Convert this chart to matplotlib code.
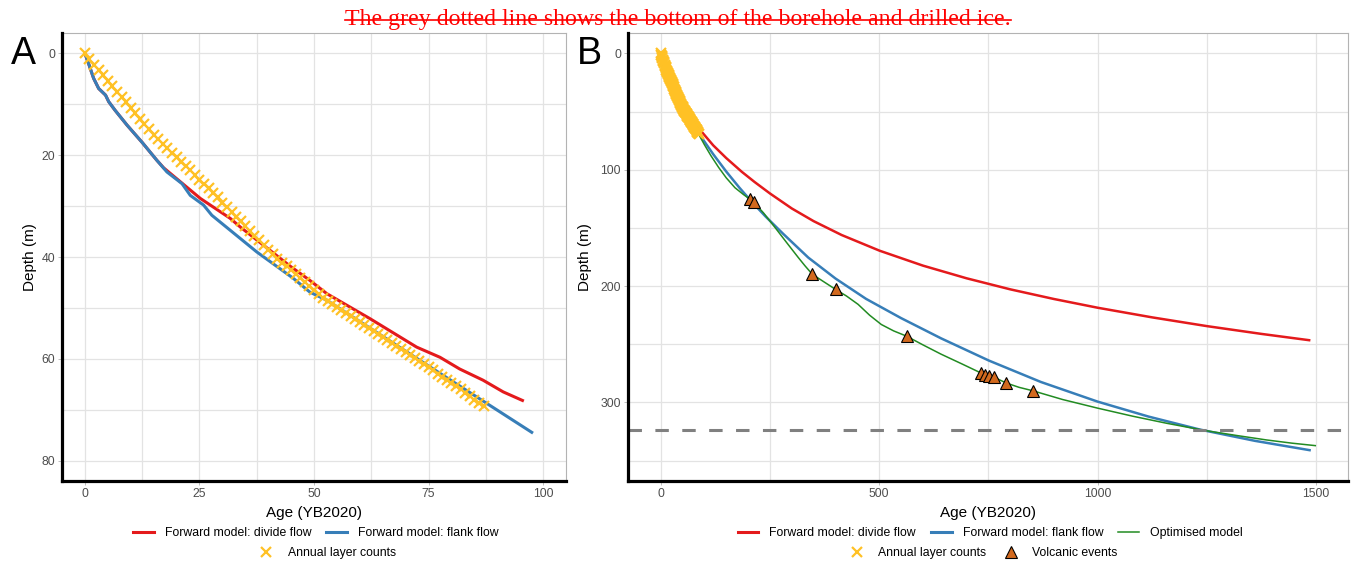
import matplotlib
matplotlib.use("Agg")
import matplotlib.pyplot as plt
from matplotlib.lines import Line2D
import numpy as np

plt.rcParams['font.family'] = ['Liberation Sans', 'DejaVu Sans']

TITLE = "The grey dotted line shows the bottom of the borehole and drilled ice."
X_LABEL = "Age (YB2020)"
Y_LABEL = "Depth (m)"
LEG_DIVIDE = "Forward model: divide flow"
LEG_FLANK = "Forward model: flank flow"
LEG_OPTIM = "Optimised model"
LEG_LAYERS = "Annual layer counts"
LEG_VOLC = "Volcanic events"

# Annual layer counts (age in years before 2020, depth in m)
layer_age = [0, 1, 2, 3, 4, 5, 6, 7, 8, 9, 10, 11, 12, 13, 14, 15, 16, 17, 18, 19,
             20, 21, 22, 23, 24, 25, 26, 27, 28, 29, 30, 31, 32, 33, 34, 35, 36, 37, 38, 39,
             40, 41, 42, 43, 44, 45, 46, 47, 48, 49, 50, 51, 52, 53, 54, 55, 56, 57, 58, 59,
             60, 61, 62, 63, 64, 65, 66, 67, 68, 69, 70, 71, 72, 73, 74, 75, 76, 77, 78, 79,
             80, 81, 82, 83, 84, 85, 86, 87]
layer_depth = [0.0, 1.1, 2.2, 3.2, 4.3, 5.4, 6.5, 7.5, 8.6, 9.6, 10.7, 11.8, 12.8, 13.9, 14.9, 16.0,
               16.9, 17.8, 18.6, 19.5, 20.4, 21.3, 22.1, 23.0, 23.9, 24.8, 25.6, 26.5, 27.4, 28.3,
               29.3, 30.2, 31.2, 32.1, 33.0, 33.9, 34.9, 35.8, 36.7, 37.7, 38.6, 39.5, 40.3, 41.1,
               41.8, 42.6, 43.4, 44.1, 44.9, 45.7, 46.4, 47.2, 48.0, 48.7, 49.3, 49.9, 50.5, 51.0,
               51.6, 52.2, 52.8, 53.4, 54.0, 54.6, 55.1, 55.7, 56.3, 56.9, 57.5, 58.1, 58.6, 59.2,
               59.8, 60.4, 61.0, 61.6, 62.2, 62.9, 63.5, 64.1, 64.8, 65.4, 66.0, 66.7, 67.3, 68.0,
               68.6, 69.3]

# Forward model: divide flow
divide_age = [0.0, 0.8, 1.9, 3.0, 4.5, 5.2, 6.6, 9.2, 12.5, 15.7, 17.2, 20.8, 25.2, 31.7, 33.9,
              44.8, 49.1, 52.8, 62.2, 72.4, 77.5, 81.8, 86.9, 91.3, 95.8, 120.0, 150.0, 185.6,
              215.0, 250.0, 300.0, 350.0, 414.0, 501.0, 600.0, 700.0, 800.0, 900.0, 1000.0,
              1125.0, 1250.0, 1375.0, 1484.0]
divide_depth = [0.0, 2.0, 4.9, 6.9, 8.2, 9.5, 11.2, 14.1, 17.5, 21.0, 22.5, 25.2, 28.5, 32.4, 34.1,
                41.8, 44.6, 47.2, 52.1, 57.7, 59.7, 62.0, 64.2, 66.5, 68.3, 79.0, 90.0, 101.8,
                110.6, 120.4, 133.3, 144.2, 156.1, 169.6, 182.4, 193.3, 202.8, 211.1, 218.6,
                226.9, 234.4, 241.1, 246.5]

# Forward model: flank flow
flank_age = [0.0, 0.8, 1.9, 3.0, 4.5, 5.2, 6.6, 9.2, 12.5, 15.7, 17.9, 21.2, 23.0, 25.9, 27.7,
             37.5, 45.5, 49.1, 52.8, 75.0, 97.8, 120.0, 150.0, 180.0, 208.4, 240.0, 280.0, 337.7,
             400.0, 470.0, 550.0, 641.6, 751.0, 870.0, 1000.0, 1117.0, 1234.0, 1360.0, 1485.0]
flank_depth = [0.0, 2.0, 4.9, 6.9, 8.2, 9.5, 11.2, 14.1, 17.5, 21.0, 23.3, 25.6, 27.9, 29.8, 31.8,
               39.0, 44.2, 46.9, 48.5, 61.4, 74.6, 86.6, 101.6, 115.4, 127.6, 140.2, 155.0, 175.5,
               193.5, 211.0, 227.5, 244.9, 264.0, 282.4, 299.3, 312.2, 323.3, 333.0, 341.0]

# Optimised model
optim_age = [85.0, 88.3, 100.0, 115.0, 132.5, 150.0, 170.0, 190.0, 205.0, 213.0, 235.0, 261.5,
             290.0, 314.9, 330.0, 346.8, 370.0, 400.0, 425.0, 451.7, 478.0, 504.8, 533.0, 562.5,
             600.0, 641.6, 690.0, 733.0, 742.0, 752.0, 763.0, 791.0, 820.0, 851.0, 920.0, 1000.0,
             1080.0, 1158.0, 1250.0, 1320.0, 1386.0, 1445.0, 1498.0]
optim_depth = [68.5, 70.5, 78.5, 88.0, 98.0, 107.0, 115.5, 121.5, 125.5, 128.0, 137.0, 149.6,
               163.5, 175.5, 182.5, 189.8, 195.5, 202.8, 208.5, 215.7, 225.0, 233.0, 238.5, 243.0,
               250.5, 258.5, 267.0, 274.7, 276.1, 276.9, 278.4, 283.3, 287.0, 289.9, 297.5, 304.9,
               311.8, 317.9, 324.4, 328.5, 332.2, 335.0, 337.1]

# Volcanic events
volc_age = [205.0, 213.0, 347.0, 400.0, 562.5, 733.0, 742.0, 752.0, 763.0, 791.0, 851.0]
volc_depth = [125.5, 128.0, 189.8, 202.8, 243.0, 274.7, 276.1, 276.9, 278.4, 283.3, 289.9]

borehole_bottom = 323.5

RED = '#E41A1C'
BLUE = '#377EB8'
GREEN = '#228B22'
YELLOW = '#FFC125'
ORANGE = '#D2691E'
GRID = '#E3E3E3'
TICKC = '#4D4D4D'

W, H = 1353, 562
fig = plt.figure(figsize=(W / 100, H / 100), dpi=100)


def px_axes(l, r, t, b):
    return fig.add_axes([l / W, 1 - b / H, (r - l) / W, (b - t) / H])


axA = px_axes(62, 566, 33, 481)
axB = px_axes(628, 1348, 33, 481)


def style(ax, xmaj, xmin, ymaj, ymin, xlim, ylim, ylab_x):
    ax.set_xlim(*xlim)
    ax.set_ylim(*ylim)
    ax.set_xticks(xmaj)
    ax.set_xticks(xmin, minor=True)
    ax.set_yticks(ymaj)
    ax.set_yticks(ymin, minor=True)
    ax.grid(True, which='major', color=GRID, lw=0.9, zorder=0)
    ax.grid(True, which='minor', color=GRID, lw=0.9, zorder=0)
    ax.set_axisbelow(True)
    ax.tick_params(which='major', length=3, width=0.6, color='#B3B3B3',
                   labelsize=8.8, labelcolor=TICKC, pad=2)
    ax.tick_params(which='minor', length=0)
    for s in ['top', 'right']:
        ax.spines[s].set_color('#B3B3B3')
        ax.spines[s].set_linewidth(0.8)
    for s in ['left', 'bottom']:
        ax.spines[s].set_color('black')
        ax.spines[s].set_linewidth(2.3)
        ax.spines[s].set_zorder(10)
    ax.set_xlabel(X_LABEL, fontsize=11)
    ax.set_ylabel(Y_LABEL, fontsize=11)
    ax.xaxis.set_label_coords(0.5, -0.055)
    ax.yaxis.set_label_coords(ylab_x, 0.5)


# ---- Panel A ----
da = np.array(divide_age); dd = np.array(divide_depth)
fa = np.array(flank_age); fd = np.array(flank_depth)
mA = da <= 100
axA.plot(da[mA], dd[mA], color=RED, lw=2.2, zorder=3, solid_capstyle='butt')
mA2 = fa <= 100
axA.plot(fa[mA2], fd[mA2], color=BLUE, lw=2.2, zorder=4, solid_capstyle='butt')
axA.plot(layer_age, layer_depth, ls='none', marker='x', color=YELLOW, ms=6.5, mew=1.6, zorder=5)
style(axA, [0, 25, 50, 75, 100], [12.5, 37.5, 62.5, 87.5], [0, 20, 40, 60, 80],
      [10, 30, 50, 70], (-5, 105), (84, -4), -0.05)

# ---- Panel B ----
axB.plot(divide_age, divide_depth, color=RED, lw=1.8, zorder=3)
axB.plot(flank_age, flank_depth, color=BLUE, lw=1.8, zorder=4)
axB.plot(optim_age, optim_depth, color=GREEN, lw=1.1, zorder=5)
axB.plot(layer_age, layer_depth, ls='none', marker='x', color=YELLOW, ms=6.5, mew=1.6, zorder=6)
axB.axhline(borehole_bottom, color='#808080', lw=2.2, ls=(0, (4.4, 4.4)), zorder=7)
axB.plot(volc_age, volc_depth, ls='none', marker='^', ms=8, mfc=ORANGE, mec='black',
         mew=0.8, zorder=8)
style(axB, [0, 500, 1000, 1500], [250, 750, 1250], [0, 100, 200, 300],
      [50, 150, 250, 350], (-74.9, 1572.9), (367.5, -17.5), -0.05)

# panel letters
fig.text(11 / W, 1 - 64 / H, "A", fontsize=27, ha='left', va='baseline')
fig.text(577 / W, 1 - 64 / H, "B", fontsize=27, ha='left', va='baseline')

# legends
leg_kw = dict(frameon=False, fontsize=8.8, loc='center', handlelength=1.7,
              handletextpad=0.9, columnspacing=1.2, borderpad=0, borderaxespad=0)
h_div = Line2D([], [], color=RED, lw=2.2)
h_fla = Line2D([], [], color=BLUE, lw=2.2)
h_opt = Line2D([], [], color=GREEN, lw=1.1)
h_lay = Line2D([], [], ls='none', marker='x', color=YELLOW, ms=6.5, mew=1.6)
h_vol = Line2D([], [], ls='none', marker='^', ms=8, mfc=ORANGE, mec='black', mew=0.8)

fig.legend([h_div, h_fla], [LEG_DIVIDE, LEG_FLANK], ncol=2,
           bbox_to_anchor=(315.5 / W, 1 - 533 / H), **leg_kw)
fig.legend([h_lay], [LEG_LAYERS], ncol=1,
           bbox_to_anchor=(326 / W, 1 - 553 / H), **leg_kw)
fig.legend([h_div, h_fla, h_opt], [LEG_DIVIDE, LEG_FLANK, LEG_OPTIM], ncol=3,
           bbox_to_anchor=(990 / W, 1 - 533 / H), **leg_kw)
fig.legend([h_lay, h_vol], [LEG_LAYERS, LEG_VOLC], ncol=2,
           bbox_to_anchor=(982 / W, 1 - 553 / H), **leg_kw)

# title with strikethrough
t = fig.text(678 / W, 1 - 19 / H, TITLE, fontsize=17.2, color='red', ha='center', va='center',
             family=['Liberation Serif', 'DejaVu Serif'])
fig.canvas.draw()
bb = t.get_window_extent(renderer=fig.canvas.get_renderer())
ymid = (bb.y0 + bb.y1) / 2 - 0.5
fig.add_artist(Line2D([bb.x0 / W, bb.x1 / W], [ymid / H, ymid / H], color='red', lw=1.2,
                      transform=fig.transFigure))

fig.savefig("out.png", dpi=100)
